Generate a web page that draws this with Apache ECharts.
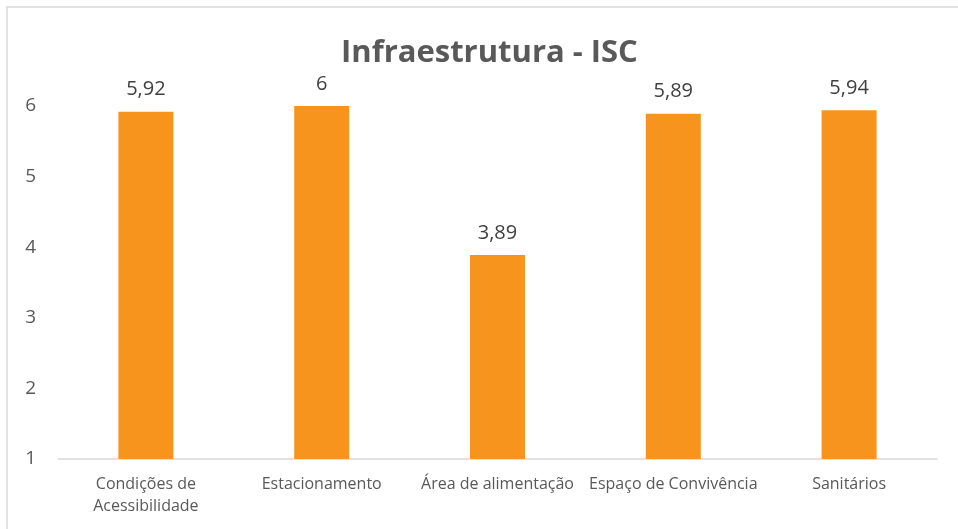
<!DOCTYPE html>
<html><head><meta charset="utf-8">
<script src="https://cdn.jsdelivr.net/npm/echarts@6/dist/echarts.min.js"></script>
<style>html,body{margin:0;padding:0;background:#fff}#c{width:958px;height:529px}</style>
</head><body><div id="c"></div>
<script>
const categories = ["Condições de Acessibilidade", "Estacionamento", "Área de alimentação", "Espaço de Convivência", "Sanitários"];
const values = [5.92, 6, 3.89, 5.89, 5.94];
const valueLabels = ["5,92", "6", "3,89", "5,89", "5,94"];
const titleText = "Infraestrutura - ISC";
const FONT = "'Open Sans', 'Liberation Sans', sans-serif";
function wrapLabel(s) {
  if (s.length <= 22) return s;
  const i = s.lastIndexOf(' ');
  return s.slice(0, i) + '\n' + s.slice(i + 1);
}
const chart = echarts.init(document.getElementById('c'));
chart.setOption({
  animation: false,
  title: { text: titleText, left: 336, top: 33,
    textStyle: { fontFamily: FONT, fontSize: 31, fontWeight: 'bold', color: '#595959' } },
  graphic: [{ type: 'rect', shape: { x: 7, y: 7, width: 960, height: 540 },
    style: { fill: 'none', stroke: '#d9d9d9', lineWidth: 1.5 }, silent: true }],
  grid: { left: 58, right: 21, top: 106, bottom: 70, containLabel: false },
  xAxis: { type: 'category', data: categories,
    axisLine: { lineStyle: { color: '#d9d9d9', width: 1.5 } },
    axisTick: { show: false },
    axisLabel: { color: '#595959', fontFamily: FONT, fontSize: 16, margin: 14, lineHeight: 22,
      interval: 0, formatter: wrapLabel } },
  yAxis: { type: 'value', min: 1, max: 6, interval: 1,
    axisLine: { show: false }, axisTick: { show: false }, splitLine: { show: false },
    axisLabel: { color: '#595959', fontFamily: FONT, fontSize: 19, margin: 22 } },
  series: [{ type: 'bar', data: values, barWidth: 55,
    itemStyle: { color: '#F7941D' },
    label: { show: true, position: 'top', distance: 12, color: '#404040', fontFamily: FONT, fontSize: 20,
      formatter: p => valueLabels[p.dataIndex] } }]
});
</script></body></html>
